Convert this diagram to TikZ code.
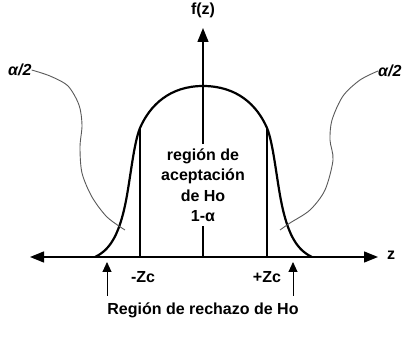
\documentclass[tikz,border=0pt]{standalone}
\usepackage{fontspec}
\setmainfont{Liberation Sans}
\usetikzlibrary{arrows.meta}
\begin{document}
\begin{tikzpicture}[x=1pt,y=-1pt,
  lbl/.style={font=\fontsize{16}{20.5}\selectfont\bfseries, inner sep=1pt},
  alab/.style={font=\fontsize{16}{20}\selectfont\bfseries\itshape, inner sep=0pt},
  axisline/.style={line width=1.3pt},
  bigtip/.style={-{Triangle[length=14pt,width=11pt]}},
  smalltip/.style={-{Triangle[length=10pt,width=9pt]}},
  curveline/.style={line width=2.2pt, line join=round},
  leader/.style={line width=0.9pt, gray!70!black}]
\useasboundingbox (0,0) rectangle (402,344);
% coordinates
\coordinate (O) at (203,257);
\coordinate (Ltip) at (30,257);
\coordinate (Rtip) at (378,257);
\coordinate (Ttip) at (203,28);
\coordinate (ZL) at (140,128);
\coordinate (ZR) at (267,128);
\coordinate (ZLb) at (140,257);
\coordinate (ZRb) at (267,257);
\coordinate (AL0) at (107,296);
\coordinate (AL1) at (107,262);
\coordinate (AR0) at (293,296);
\coordinate (AR1) at (293,262);
% axes
\draw[axisline, {Triangle[length=14pt,width=11pt]}-{Triangle[length=14pt,width=11pt]}] (Ltip) -- (Rtip);
\draw[axisline, bigtip] (O) -- (Ttip);
% bell curve
\draw[curveline] (95,257) .. controls (110,250) and (118,235) .. (124,210)
  .. controls (130,185) and (133,145) .. (ZL)
  .. controls (150,105) and (170,86) .. (203,86)
  .. controls (237,86) and (257,105) .. (ZR)
  .. controls (274,145) and (277,185) .. (283,210)
  .. controls (289,235) and (297,250) .. (312,257);
\draw[line width=2pt] (ZL) -- (ZLb);
\draw[line width=2pt] (ZR) -- (ZRb);
% labels
\node[lbl] (fz) at (203,10) {f(z)};
\node[lbl] (z) at (391,255) {z};
\node[lbl, fill=white, align=center, inner sep=4pt] (acc) at (203,185)
  {región de\\aceptación\\de Ho\\1-α};
\node[lbl] (mzc) at (143,277) {-Zc};
\node[lbl] (pzc) at (267,277) {+Zc};
\node[lbl] (rej) at (203,310) {Región de rechazo de Ho};
\node[alab, anchor=west] (aL) at (8,70) {α/2};
\node[alab, anchor=west] (aR) at (378,71) {α/2};
% leaders
\draw[leader] plot[smooth] coordinates {(aL.east) (50,76) (68,86) (79,105) (82,125) (80,147) (82,173) (92,197) (107,217) (125,230)};
\draw[leader] plot[smooth] coordinates {(aR.west) (360,80) (343,96) (332,120) (330,140) (333,160) (325,190) (310,210) (290,223) (280,230)};
% rejection arrows
\draw[line width=0.9pt, smalltip] (AL0) -- (AL1);
\draw[line width=0.9pt, smalltip] (AR0) -- (AR1);
\end{tikzpicture}
\end{document}
